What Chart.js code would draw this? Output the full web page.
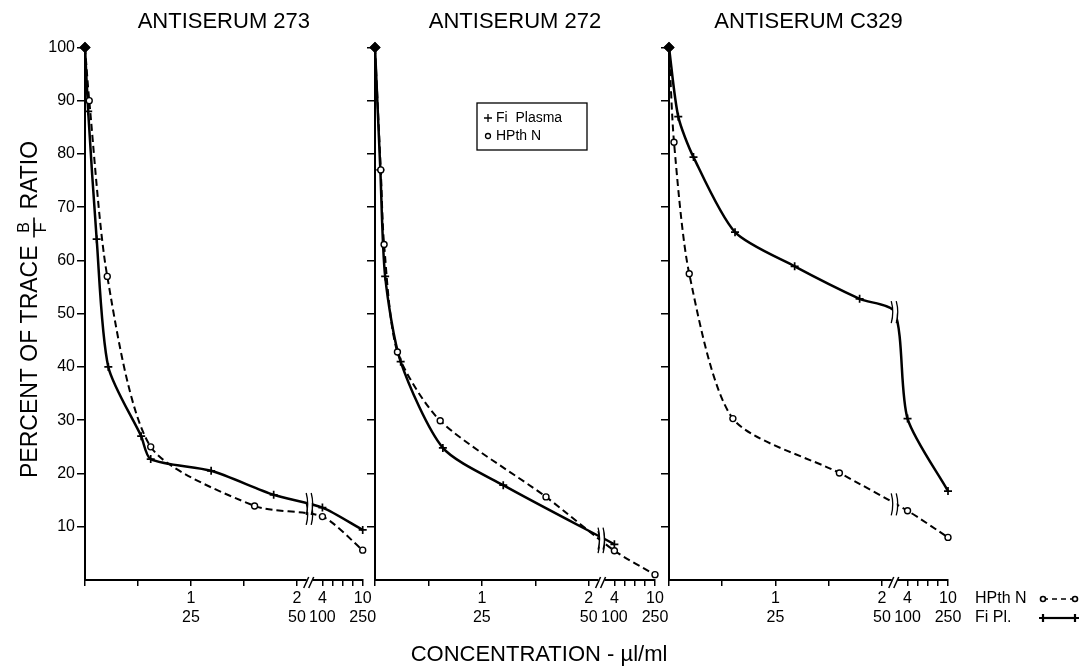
<!DOCTYPE html>
<html>
<head>
<meta charset="utf-8">
<title>Antiserum dilution curves</title>
<script src="https://cdn.jsdelivr.net/npm/chart.js@4.4.1/dist/chart.umd.min.js"></script>
<style>
  html, body { margin: 0; padding: 0; background: #fff; }
  #wrap { position: relative; width: 1085px; height: 669px; overflow: hidden; }
  #wrap canvas { position: absolute; top: 0; }
</style>
</head>
<body>
<div id="wrap">
  <canvas id="panel273" width="390" height="669" style="left:0px"></canvas>
  <canvas id="panel272" width="320" height="669" style="left:360px"></canvas>
  <canvas id="panelC329" width="431" height="669" style="left:654px"></canvas>
</div>
<script>
// Broken concentration axis: linear 0..2, cut, then 4..10
const BREAK_AT = 2.12;
const TAIL_FROM = 2.24;   // axis position of 4
const TAIL_TO = 2.62;     // axis position of 10

// x ticks (upper row, lower row of labels)
const tickConc   = [0, 0.5, 1, 1.5, 2, 4, 5.5, 7, 8.5, 10];
const tickTop    = ['', '', '1', '', '2', '4', '', '', '', '10'];
const tickBottom = ['', '', '25', '', '50', '100', '', '', '', '250'];
const yTicks = [0, 10, 20, 30, 40, 50, 60, 70, 80, 90, 100];

// Antiserum 273
const conc273Fi = [0, 0.03, 0.11, 0.22, 0.53, 0.62, 1.19, 1.78, 4, 10];
const bf273Fi   = [100, 88, 64, 40, 27, 22.7, 20.5, 16, 13.6, 9.4];
const conc273HP = [0, 0.04, 0.21, 0.62, 1.6, 4, 10];
const bf273HP   = [100, 90, 57, 25, 13.9, 11.9, 5.6];

// Antiserum 272
const conc272Fi = [0, 0.05, 0.095, 0.24, 0.635, 1.2, 4];
const bf272Fi   = [100, 77, 57, 41, 24.8, 17.8, 6.7];
const conc272HP = [0, 0.054, 0.085, 0.21, 0.61, 1.6, 4, 10];
const bf272HP   = [100, 77, 63, 42.8, 29.9, 15.6, 5.5, 1];

// Antiserum C329 (Fi curve reaches the cut at about 50)
const concC329Fi = [0, 0.087, 0.23, 0.62, 1.18, 1.79, BREAK_AT, 4, 10];
const bfC329Fi   = [100, 87, 79.4, 65.3, 58.9, 52.8, 50.3, 30.3, 16.7];
const concC329HP = [0, 0.047, 0.19, 0.6, 1.6, 4, 10];
const bfC329HP   = [100, 82.2, 57.5, 30.3, 20.1, 13, 8];

const FONT = '"Liberation Sans", Arial, sans-serif';
Chart.defaults.font.family = FONT;
Chart.defaults.color = '#000';

function axisPos(c) {
    if (c <= BREAK_AT) return c;
    return TAIL_FROM + (c - 4) / 6 * (TAIL_TO - TAIL_FROM);
}

function toPoints(conc, vals) {
    return conc.map((c, i) => ({ x: axisPos(c), y: vals[i], c: c }));
}

function fiSeries(conc, vals) {
    return {
        label: 'Fi Plasma',
        data: toPoints(conc, vals),
        borderColor: '#000',
        borderWidth: 2.5,
        tension: 0.25,
        pointStyle: ctx => (ctx.raw && ctx.raw.c === 0) ? 'rectRot' : 'cross',
        pointRadius: ctx => {
            if (!ctx.raw) return 4;
            if (ctx.raw.c === BREAK_AT) return 0;
            return ctx.raw.c === 0 ? 4.5 : 4;
        },
        pointBorderWidth: 1.7,
        pointBorderColor: '#000',
        pointBackgroundColor: '#000',
        clip: false
    };
}

function hpSeries(conc, vals) {
    return {
        label: 'HPth N',
        data: toPoints(conc, vals),
        borderColor: '#000',
        borderWidth: 2,
        borderDash: [7, 4],
        tension: 0.25,
        pointStyle: ctx => (ctx.raw && ctx.raw.c === 0) ? 'rectRot' : 'circle',
        pointRadius: ctx => (ctx.raw && ctx.raw.c === 0) ? 4.5 : 3,
        pointBorderWidth: 1.4,
        pointBorderColor: '#000',
        pointBackgroundColor: ctx => (ctx.raw && ctx.raw.c === 0) ? '#000' : '#fff',
        clip: false
    };
}

// little wavy cut drawn across a curve
function drawCut(ctx, x, y, h) {
    ctx.fillStyle = '#fff';
    ctx.fillRect(x - 2, y - h / 2 + 3, 4, h - 6);
    ctx.strokeStyle = '#000';
    ctx.lineWidth = 1.3;
    [-2.5, 2.5].forEach(dx => {
        ctx.beginPath();
        ctx.moveTo(x + dx - 1, y - h / 2);
        ctx.quadraticCurveTo(x + dx + 2, y, x + dx - 1, y + h / 2);
        ctx.stroke();
    });
}

const breakMarks = {
    id: 'breakMarks',
    afterDatasetsDraw(chart) {
        const { ctx, chartArea, scales } = chart;
        const bx = scales.x.getPixelForValue(BREAK_AT);
        ctx.save();
        chart.data.datasets.forEach((ds, i) => {
            const before = ds.data.some(p => p.x < BREAK_AT);
            const after = ds.data.some(p => p.x > BREAK_AT);
            if (!before || !after) return;
            const line = chart.getDatasetMeta(i).dataset;
            const pt = line.interpolate({ x: bx }, 'x');
            if (pt) drawCut(ctx, bx, pt.y, 22);
        });
        // "//" on the concentration axis
        const ay = chartArea.bottom;
        ctx.fillStyle = '#fff';
        ctx.fillRect(bx - 3, ay - 2, 6, 4);
        ctx.strokeStyle = '#000';
        ctx.lineWidth = 1.5;
        [-3, 2].forEach(dx => {
            ctx.beginPath();
            ctx.moveTo(bx + dx - 3, ay + 8);
            ctx.lineTo(bx + dx + 2, ay - 3);
            ctx.stroke();
        });
        ctx.restore();
    }
};

// boxed key inside the middle panel
const boxLegend = {
    id: 'boxLegend',
    afterDraw(chart, args, opts) {
        if (!opts.show) return;
        const ctx = chart.ctx;
        ctx.save();
        ctx.strokeStyle = '#000';
        ctx.lineWidth = 1.3;
        ctx.strokeRect(opts.left, opts.top, opts.width, opts.height);
        ctx.font = '14px ' + FONT;
        ctx.textBaseline = 'middle';
        ctx.fillStyle = '#000';
        const rows = [
            { text: 'Fi  Plasma', style: 'cross', radius: 4, fill: '#000' },
            { text: 'HPth N', style: 'circle', radius: 2.5, fill: '#fff' }
        ];
        rows.forEach((r, i) => {
            const y = opts.top + 15 + i * 18;
            ctx.fillStyle = r.fill;
            ctx.strokeStyle = '#000';
            Chart.helpers.drawPoint(ctx, { pointStyle: r.style, radius: r.radius, borderWidth: 1.4 }, opts.left + 11, y);
            ctx.fillStyle = '#000';
            ctx.fillText(r.text, opts.left + 19, y);
        });
        ctx.restore();
    }
};

function buildPanel(id, title, datasets, layout, extraPlugins) {
    return new Chart(document.getElementById(id), {
        type: 'line',
        data: { datasets: datasets },
        options: {
            responsive: false,
            animation: false,
            devicePixelRatio: 1,
            layout: { padding: { left: 0, right: layout.right, top: 0, bottom: 0 } },
            scales: {
                x: {
                    type: 'linear',
                    min: 0,
                    max: TAIL_TO,
                    afterBuildTicks: s => { s.ticks = tickConc.map(c => ({ value: axisPos(c) })); },
                    afterFit: s => { s.height = 89; },
                    ticks: {
                        autoSkip: false,
                        maxRotation: 0,
                        minRotation: 0,
                        padding: 3,
                        font: { size: 16 },
                        callback: (v, i) => [tickTop[i], tickBottom[i]]
                    },
                    grid: { drawOnChartArea: false, tickLength: 6, color: '#000', lineWidth: 1.5 },
                    border: { color: '#000', width: 2 }
                },
                y: {
                    min: 0,
                    max: 100,
                    afterBuildTicks: s => { s.ticks = yTicks.map(v => ({ value: v })); },
                    afterFit: s => { s.width = layout.yWidth; },
                    ticks: {
                        display: layout.yLabels,
                        padding: 2,
                        font: { size: 16 },
                        callback: v => v === 0 ? '' : String(v)
                    },
                    grid: {
                        drawOnChartArea: false,
                        tickLength: 8,
                        lineWidth: 1.5,
                        color: ctx => (ctx.tick && ctx.tick.value === 0) ? 'rgba(0,0,0,0)' : '#000'
                    },
                    border: { color: '#000', width: 2 }
                }
            },
            plugins: {
                legend: { display: false },
                tooltip: { enabled: false },
                title: {
                    display: true,
                    text: title,
                    fullSize: false,
                    color: '#000',
                    font: { size: 22, weight: 'normal' },
                    padding: { top: 9, bottom: 12 }
                },
                boxLegend: layout.legend || { show: false }
            }
        },
        plugins: [breakMarks, boxLegend].concat(extraPlugins || [])
    });
}

// rotated y title with the B/F fraction
const yTitle = {
    id: 'yTitle',
    afterDraw(chart) {
        const ctx = chart.ctx;
        ctx.save();
        ctx.translate(31, 478);
        ctx.rotate(-Math.PI / 2);
        ctx.fillStyle = '#000';
        ctx.strokeStyle = '#000';
        ctx.textBaseline = 'middle';
        ctx.textAlign = 'left';
        ctx.font = '23px ' + FONT;
        const head = 'PERCENT OF TRACE';
        ctx.fillText(head, 0, 0);
        let x = ctx.measureText(head).width + 7;
        ctx.font = '16px ' + FONT;
        ctx.textAlign = 'center';
        ctx.fillText('B', x + 11, -6);
        ctx.fillText('F', x + 11, 11);
        ctx.lineWidth = 1.6;
        ctx.beginPath();
        ctx.moveTo(x + 1, 3);
        ctx.lineTo(x + 21, 3);
        ctx.stroke();
        x += 29;
        ctx.font = '23px ' + FONT;
        ctx.textAlign = 'left';
        ctx.fillText('RATIO', x, 0);
        ctx.restore();
    }
};

const xTitle = {
    id: 'xTitle',
    afterDraw(chart) {
        const ctx = chart.ctx;
        ctx.save();
        ctx.fillStyle = '#000';
        ctx.font = '22px ' + FONT;
        ctx.textAlign = 'center';
        ctx.textBaseline = 'middle';
        ctx.fillText('CONCENTRATION - \u00b5l/ml', 179, 655);
        ctx.restore();
    }
};

// key at the end of the axis labels, right of the last panel
const sideKey = {
    id: 'sideKey',
    afterDraw(chart) {
        const ctx = chart.ctx;
        const x0 = 321, lx1 = 389, lx2 = 421;
        const rows = [
            { text: 'HPth N', y: 599, dash: [5, 4], style: 'circle', radius: 2.5, fill: '#fff', width: 1.6 },
            { text: 'Fi Pl.', y: 618, dash: [], style: 'cross', radius: 4, fill: '#000', width: 2.2 }
        ];
        ctx.save();
        ctx.font = '16px ' + FONT;
        ctx.textBaseline = 'middle';
        rows.forEach(r => {
            ctx.fillStyle = '#000';
            ctx.fillText(r.text, x0, r.y);
            ctx.strokeStyle = '#000';
            ctx.lineWidth = r.width;
            ctx.setLineDash(r.dash);
            ctx.beginPath();
            ctx.moveTo(lx1, r.y);
            ctx.lineTo(lx2, r.y);
            ctx.stroke();
            ctx.setLineDash([]);
            [lx1, lx2].forEach(px => {
                ctx.fillStyle = r.fill;
                Chart.helpers.drawPoint(ctx, { pointStyle: r.style, radius: r.radius, borderWidth: 1.4 }, px, r.y);
            });
        });
        ctx.restore();
    }
};

buildPanel('panel273', 'ANTISERUM 273',
    [hpSeries(conc273HP, bf273HP), fiSeries(conc273Fi, bf273Fi)],
    { right: 27.3, yWidth: 85, yLabels: true }, [yTitle]);

buildPanel('panel272', 'ANTISERUM 272',
    [hpSeries(conc272HP, bf272HP), fiSeries(conc272Fi, bf272Fi)],
    { right: 25, yWidth: 15, yLabels: false,
      legend: { show: true, left: 117, top: 103, width: 110, height: 47 } }, [xTitle]);

buildPanel('panelC329', 'ANTISERUM C329',
    [hpSeries(concC329HP, bfC329HP), fiSeries(concC329Fi, bfC329Fi)],
    { right: 137, yWidth: 15, yLabels: false }, [sideKey]);
</script>
</body>
</html>
